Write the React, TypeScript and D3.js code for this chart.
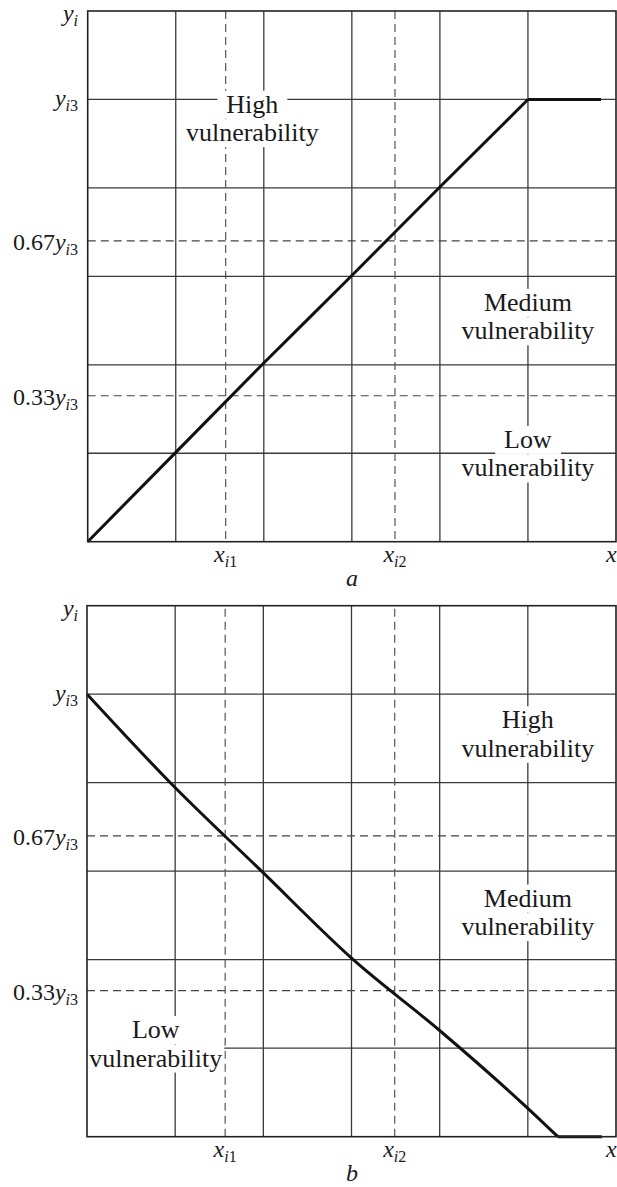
import * as d3 from "d3";
import { useEffect, useRef } from "react";

// grid cells in units of one cell; y_i3 sits on the 5th row line
const gridTicks = [0, 1, 2, 3, 4, 5, 6];
const yi3 = 5;
const dashX = [1.567, 3.49];
const dashXSubs = ["1", "2"];
const dashY = [1.65, 3.4];
const dashYPrefix = ["0.33", "0.67"];

// curve a (rising), then flat tail
const lineAx = [0, 1, 2, 3, 4, 5];
const lineAy = [0, 1.01, 2.02, 3.01, 4.01, 5];
const tailA = [5, 5.83];
// curve b (falling), then flat tail
const lineBx = [0, 0.945, 1.98, 3.02, 4, 5, 5.34];
const lineBy = [5, 4, 3, 2, 1.2, 0.32, 0];
const tailB = [5.34, 5.84];

const zoneNames = ["High", "Medium", "Low"];
// label anchors (cell units) per panel: [x center, first baseline]
const zonesA = [[1.87, 4.85], [5.0, 2.61], [5.0, 1.06]];
const zonesB = [[5.0, 4.615], [5.0, 2.6], [0.78, 1.115]];

const SERIF = "Liberation Serif, DejaVu Serif, serif";

const App = () => {
  const ref = useRef<SVGSVGElement>(null);

  useEffect(() => {
    const svg = d3.select(ref.current);
    svg.selectAll("*").remove();

    const panels = [
      { left: 87.7, top: 11, bottom: 541.7, xs: lineAx, ys: lineAy, tail: tailA, tailY: 5, zones: zonesA, cap: "a", dashTop: 0 },
      { left: 87, top: 605.7, bottom: 1136.7, xs: lineBx, ys: lineBy, tail: tailB, tailY: 0, zones: zonesB, cap: "b", dashTop: 3 },
    ];

    panels.forEach((p) => {
      const x = d3.scaleLinear().domain([0, 6]).range([p.left, 616]);
      const y = d3.scaleLinear().domain([0, 6]).range([p.bottom, p.top]);
      const g = svg.append("g");

      // solid grid
      g.selectAll(".vx").data(gridTicks.slice(1, 6)).enter().append("line")
        .attr("x1", (d) => x(d)).attr("x2", (d) => x(d))
        .attr("y1", y(6)).attr("y2", y(0))
        .attr("stroke", "#3a3a3a").attr("stroke-width", 1.3);
      g.selectAll(".hy").data(gridTicks.slice(1, 6)).enter().append("line")
        .attr("y1", (d) => y(d)).attr("y2", (d) => y(d))
        .attr("x1", x(0)).attr("x2", x(6))
        .attr("stroke", "#3a3a3a").attr("stroke-width", 1.3);

      // dashed guides
      g.selectAll(".dx").data(dashX).enter().append("line")
        .attr("x1", (d) => x(d)).attr("x2", (d) => x(d))
        .attr("y1", y(6) + p.dashTop).attr("y2", y(0))
        .attr("stroke", "#555").attr("stroke-width", 1.2)
        .attr("stroke-dasharray", "8,5");
      g.selectAll(".dy").data(dashY).enter().append("line")
        .attr("y1", (d) => y(d)).attr("y2", (d) => y(d))
        .attr("x1", x(0)).attr("x2", x(6))
        .attr("stroke", "#444").attr("stroke-width", 1.2)
        .attr("stroke-dasharray", "8,5");

      // zone labels with white boxes
      p.zones.forEach((z, i) => {
        const lines = [zoneNames[i], "vulnerability"];
        const pad = p.cap === "b" && i === 2 ? 2 : 9;
        lines.forEach((s, k) => {
          const t = g.append("text")
            .attr("x", x(z[0])).attr("y", y(z[1]) + k * 28.5)
            .attr("text-anchor", "middle")
            .attr("font-family", SERIF).attr("font-size", 26)
            .attr("fill", "#1a1a1a").text(s);
          const bb = (t.node() as SVGTextElement).getBBox();
          g.insert("rect", () => t.node())
            .attr("x", bb.x - pad).attr("y", bb.y + 1)
            .attr("width", bb.width + 2 * pad).attr("height", bb.height - 1)
            .attr("fill", "#fff");
        });
      });

      // main curve
      const pts = p.xs.map((v, i) => [v, p.ys[i]] as [number, number]);
      g.append("path").datum(pts)
        .attr("d", d3.line().x((d) => x(d[0])).y((d) => y(d[1])).curve(d3.curveMonotoneX))
        .attr("fill", "none").attr("stroke", "#111").attr("stroke-width", 3)
        .attr("stroke-linejoin", "round");
      g.append("path").datum(p.tail.map((v) => [v, p.tailY] as [number, number]))
        .attr("d", d3.line().x((d) => x(d[0])).y((d) => y(d[1])))
        .attr("fill", "none").attr("stroke", "#111").attr("stroke-width", 3);

      // frame
      g.append("rect")
        .attr("x", x(0)).attr("y", y(6))
        .attr("width", x(6) - x(0)).attr("height", y(0) - y(6))
        .attr("fill", "none").attr("stroke", "#222").attr("stroke-width", 1.6);

      // math labels
      const math = (px: number, py: number, anchor: string, pre: string, main: string, subI: string, subN: string) => {
        const t = g.append("text").attr("x", px).attr("y", py)
          .attr("text-anchor", anchor)
          .attr("font-family", SERIF).attr("font-size", 24).attr("fill", "#1a1a1a");
        if (pre) t.append("tspan").text(pre);
        t.append("tspan").attr("font-style", "italic").text(main);
        if (subI) t.append("tspan").attr("dy", 5).attr("font-size", 16).attr("font-style", "italic").text(subI);
        if (subN) t.append("tspan").attr("font-size", 16).text(subN);
      };
      math(78, y(6) + 10, "end", "", "y", "i", "");
      math(78, y(yi3) + 7, "end", "", "y", "i", "3");
      dashY.forEach((d, i) => math(78, y(d) + 9, "end", dashYPrefix[i], "y", "i", "3"));
      dashX.forEach((d, i) => math(x(d), y(0) + 20, "middle", "", "x", "i", dashXSubs[i]));
      math(606, y(0) + 20, "start", "", "x", "", "");
      math(352, y(0) + 44, "middle", "", p.cap, "", "");
    });
  }, []);

  return (
    <svg ref={ref} width={617} height={1187}
      style={{ position: "absolute", left: 0, top: 0, background: "#fff" }} />
  );
};

export default App;
